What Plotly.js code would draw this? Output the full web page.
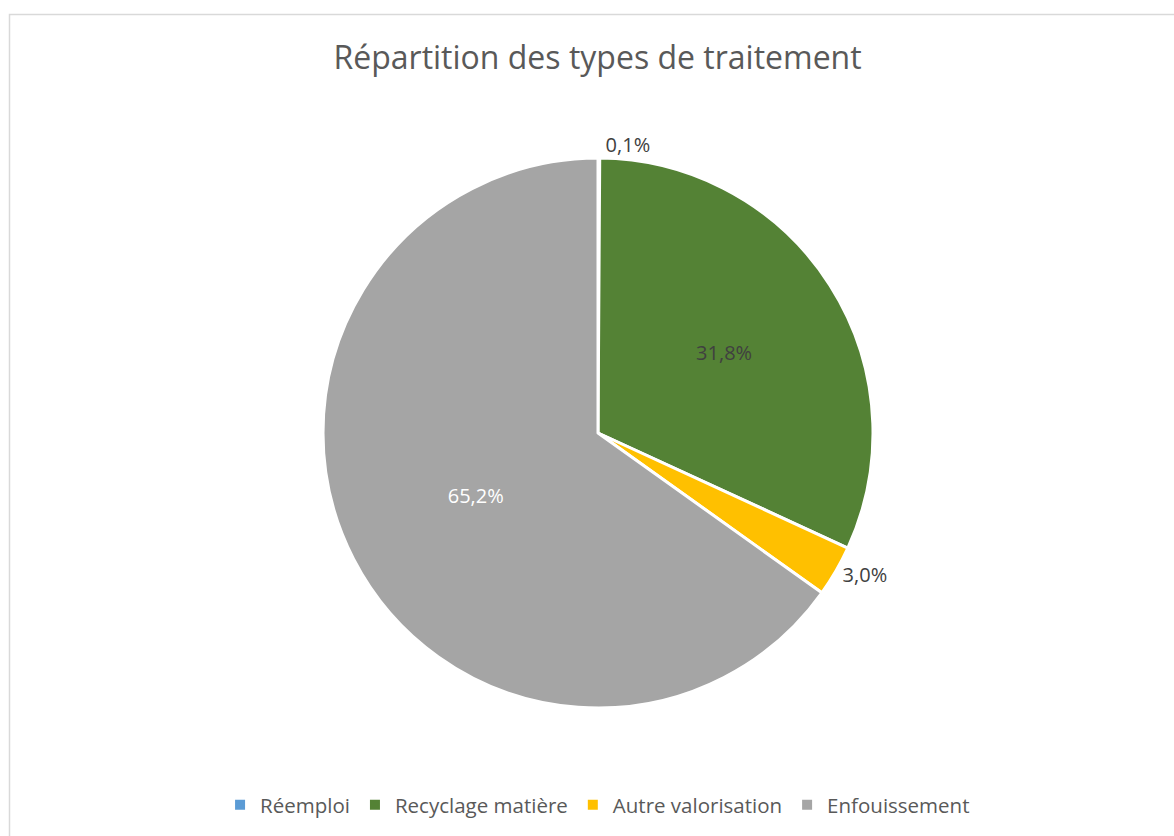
<!DOCTYPE html>
<html>
<head>
<meta charset="utf-8">
<script src="https://cdn.plot.ly/plotly-3.0.1.min.js"></script>
<style>
  html, body { margin: 0; padding: 0; background: #ffffff; }
  #chart { width: 1174px; height: 836px; }
</style>
</head>
<body>
<div id="chart"></div>
<script>
// Répartition des types de traitement
const categories = ['Réemploi', 'Recyclage matière', 'Autre valorisation', 'Enfouissement'];
const shares = [0.1, 31.8, 3.0, 65.2];
const sliceColors = ['#5B9BD5', '#548235', '#FFC000', '#A5A5A5'];
const labelPositions = ['outside', 'inside', 'outside', 'inside'];
const labelColors = ['#404040', '#404040', '#404040', '#ffffff'];

const W = 1174, H = 836;
// pie centre (598, 433), rayon 275 px
const cx = 598, cy = 433, r = 275;

const trace = {
  type: 'pie',
  labels: categories,
  values: shares,
  sort: false,
  direction: 'clockwise',
  rotation: 0,
  texttemplate: '%{value:.1f}%',
  textposition: labelPositions,
  insidetextorientation: 'horizontal',
  textfont: { family: 'Open Sans, sans-serif', size: 20, color: labelColors },
  marker: { colors: sliceColors, line: { color: '#ffffff', width: 3 } },
  hoverinfo: 'label+percent',
  domain: {
    x: [(cx - r) / W, (cx + r) / W],
    y: [(H - cy - r) / H, (H - cy + r) / H]
  }
};

const layout = {
  width: W,
  height: H,
  separators: ',.',
  margin: { t: 0, r: 0, b: 0, l: 0 },
  paper_bgcolor: '#ffffff',
  font: { family: 'Open Sans, sans-serif', color: '#595959' },
  title: {
    text: 'Répartition des types de traitement',
    font: { family: 'Open Sans, sans-serif', size: 32, color: '#595959' },
    x: 0.509,
    xanchor: 'center',
    y: 1 - 58 / H,
    yanchor: 'middle'
  },
  showlegend: true,
  legend: {
    orientation: 'h',
    x: 0.509,
    xanchor: 'center',
    y: 1 - 805 / H,
    yanchor: 'middle',
    font: { size: 20.5, color: '#595959' },
    itemsizing: 'constant',
    traceorder: 'normal'
  },
  shapes: [
    // cadre du graphique
    {
      type: 'rect', xref: 'paper', yref: 'paper',
      x0: 9.5 / W, x1: 1.05, y0: -0.05, y1: 1 - 14.5 / H,
      line: { color: '#d9d9d9', width: 1.5 },
      fillcolor: 'rgba(0,0,0,0)'
    }
  ]
};

Plotly.newPlot('chart', [trace], layout, { displayModeBar: false, staticPlot: true });
</script>
</body>
</html>
